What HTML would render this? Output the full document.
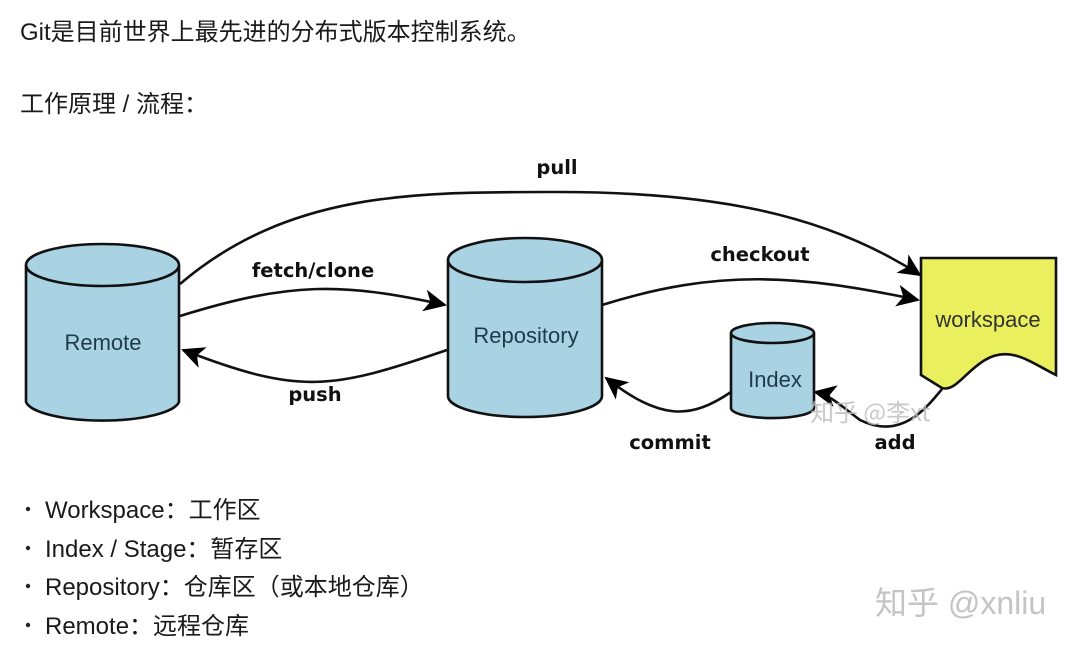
<!DOCTYPE html>
<html><head><meta charset="utf-8"><style>
html,body{margin:0;padding:0;background:#fff;width:1080px;height:648px;overflow:hidden}
.t{position:absolute;font-family:"Liberation Sans","Noto Sans CJK SC",sans-serif;font-size:24px;line-height:28px;color:#1a1a1a;white-space:nowrap}
</style></head><body>
<div class="t" style="left:20px;top:19px">Git是目前世界上最先进的分布式版本控制系统。</div>
<div class="t" style="left:20px;top:91px">工作原理 / 流程：</div>
<svg width="1080" height="648" style="position:absolute;left:0;top:0" xmlns="http://www.w3.org/2000/svg">
<defs><marker id="a" markerWidth="24" markerHeight="22" refX="21" refY="11" orient="auto" markerUnits="userSpaceOnUse"><path d="M0,0 L23,11 L0,22 L6,11 Z" fill="#000"/></marker></defs>
<g stroke="#111" stroke-width="2.6" fill="none" marker-end="url(#a)">
<path d="M180,284 C290,190 420,192 557,192 C700,192 820,210 920,275"/>
<path d="M180,316 C290,282 340,282 445,305"/>
<path d="M447,350 C330,390 300,395 183,350"/>
<path d="M602,305 C720,268 800,275 918,300"/>
<path d="M731,392 C690,420 660,420 606,378"/>
<path d="M942,389 C925,410 900,440 860,420 C840,405 830,395 815,392"/>
</g>
<g stroke="#111" stroke-width="2.6" fill="#a9d2e3">
<path d="M26,265 L26,402 A77,21 0 0 0 179,402 L179,265"/><ellipse cx="102.5" cy="265" rx="76.5" ry="21"/>
<path d="M448,260 L448,396 A77,21 0 0 0 602,396 L602,260"/><ellipse cx="525" cy="260" rx="77" ry="22"/>
<path d="M731,333 L731,408 A41,10 0 0 0 814,408 L814,333"/><ellipse cx="772.5" cy="333" rx="41.5" ry="10"/>
<path d="M921,258 L1056,258 L1056,375 C1030,362 1010,345 985,360 C965,372 955,392 942,388 L921,375 Z" fill="#eaef5e"/>
</g>
<g font-family="Liberation Sans,DejaVu Sans,sans-serif" font-size="22" fill="#1d3b4a" text-anchor="middle">
<text x="103" y="350">Remote</text><text x="526" y="343">Repository</text><text x="775" y="387">Index</text><text x="988" y="327" fill="#333">workspace</text>
</g>
<g font-family="DejaVu Sans,Liberation Sans,sans-serif" font-size="19.5" font-weight="bold" fill="#111" text-anchor="middle">
<text x="557" y="174">pull</text><text x="313" y="277">fetch/clone</text><text x="315" y="401">push</text>
<text x="760" y="261">checkout</text><text x="670" y="449">commit</text><text x="895" y="449">add</text>
</g>
<text x="810" y="421" font-family="Noto Sans CJK SC,sans-serif" font-size="24" fill="#bbb" opacity="0.8">知乎 @李xt</text>
<g fill="#222"><circle cx="28" cy="509" r="2.2"/><circle cx="28" cy="548" r="2.2"/><circle cx="28" cy="586" r="2.2"/><circle cx="28" cy="625" r="2.2"/></g>
<text x="875" y="614" font-family="Liberation Sans,Noto Sans CJK SC,sans-serif" font-size="32" fill="#c4c4c4">知乎 @xnliu</text>
</svg>
<div class="t" style="left:45px;top:497px">Workspace：工作区</div>
<div class="t" style="left:45px;top:536px">Index / Stage：暂存区</div>
<div class="t" style="left:45px;top:574px">Repository：仓库区（或本地仓库）</div>
<div class="t" style="left:45px;top:613px">Remote：远程仓库</div>
</body></html>
